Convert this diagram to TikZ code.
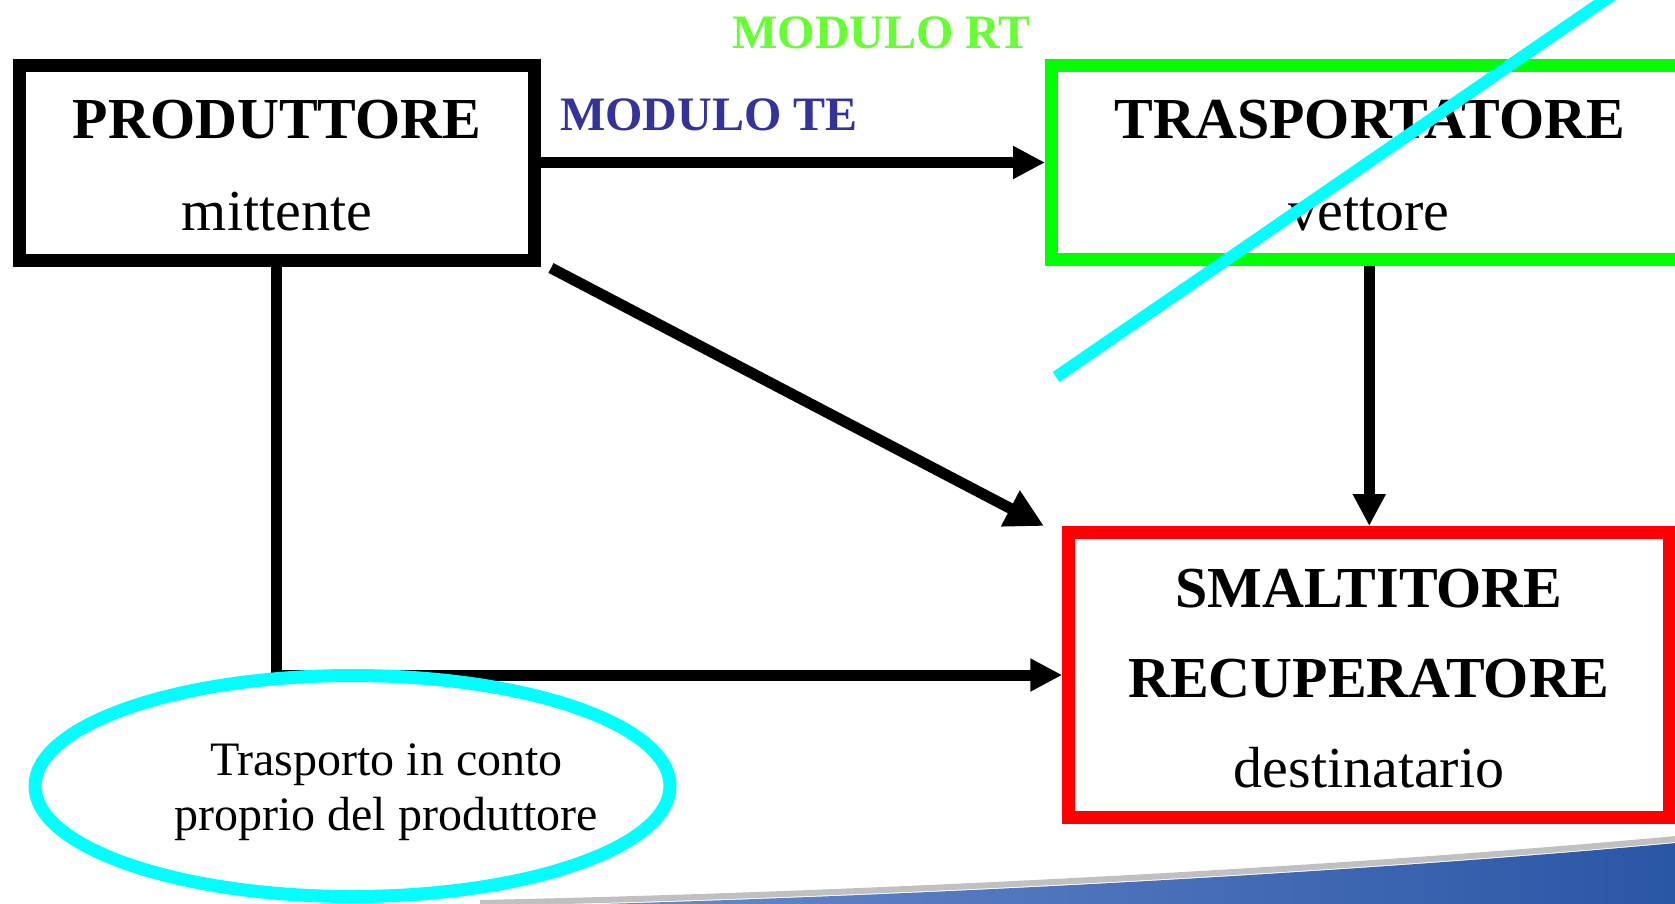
\documentclass[tikz,border=0pt]{standalone}
\usepackage{fontspec}
\setmainfont{Liberation Serif}
\usetikzlibrary{arrows.meta,shapes.geometric}
\definecolor{teblue}{HTML}{333399}
\definecolor{rtgreen}{HTML}{66FF33}
\definecolor{boxgreen}{HTML}{00FF00}
\definecolor{boxred}{HTML}{FF0000}
\definecolor{cyanline}{HTML}{00FFFF}
\definecolor{swl}{HTML}{7090D0}
\definecolor{swr}{HTML}{2A56A6}
\tikzset{
  box/.style={rectangle, line width=13pt, inner sep=0pt},
  bigname/.style={anchor=base, font=\bfseries\fontsize{58}{62}\selectfont},
  subname/.style={anchor=base, font=\fontsize{58}{62}\selectfont},
  modlabel/.style={anchor=base, font=\bfseries\fontsize{48}{52}\selectfont},
  elltext/.style={anchor=base, font=\fontsize{48}{52}\selectfont},
  arr/.style={line width=11pt, -{Triangle[length=32pt,width=31pt]}},
  bigarr/.style={line width=11pt, -{Triangle[length=38pt,width=38pt]}},
}
\begin{document}
\begin{tikzpicture}[x=1pt,y=-1pt]
\useasboundingbox (0,0) rectangle (1675,903);
\clip (0,0) rectangle (1675,903);
\fill[white] (0,0) rectangle (1675,903);

% bottom swoosh
\shade[left color=swl, right color=swr]
  (480,907) .. controls (900,898) and (1350,873) .. (1676,843) -- (1676,910) -- (480,910) -- cycle;
\draw[gray!70, line width=6pt, opacity=0.7]
  (480,903) .. controls (900,894) and (1350,869) .. (1676,839);

% boxes
\node[box, draw=black, minimum width=515.5pt, minimum height=195pt] (prod) at (276.75,162.5) {};
\node[box, draw=boxgreen, minimum width=648pt, minimum height=194pt] (trasp) at (1375.5,162.5) {};
\node[box, draw=boxred, minimum width=601pt, minimum height=285pt] (smalt) at (1369.25,675) {};

% box texts
\node[bigname] (prodT) at (277,138) {PRODUTTORE};
\node[subname] (prodS) at (277,230) {mittente};
\node[bigname] (traspT) at (1370,138) {TRASPORTATORE};
\node[subname] (traspS) at (1369,230) {vettore};
\node[bigname] (smaltT1) at (1369,607) {SMALTITORE};
\node[bigname] (smaltT2) at (1369,697) {RECUPERATORE};
\node[subname] (smaltS) at (1369,787) {destinatario};

% module labels
\node[modlabel, text=rtgreen] (modRT) at (881.5,48) {MODULO RT};
\node[modlabel, text=teblue] (modTE) at (709,130) {MODULO TE};

% connectors
\draw[arr] (prod.east) -- (trasp.west);
\draw[arr] (smalt.north |- trasp.south) -- (smalt.north);
\coordinate (dstart) at (551,268);
\coordinate (dend) at (1044,526);
\draw[bigarr] (dstart) -- (dend);
\draw[arr] (prod.south) -- (prod.south |- smalt.west) -- (smalt.west);

% ellipse
\node[ellipse, draw=cyanline, line width=13pt, minimum width=635pt, minimum height=221pt, inner sep=0pt] (ell) at (352.5,786) {};
\node[elltext] (ellT1) at (386.5,775) {Trasporto in conto};
\node[elltext] (ellT2) at (386,830) {proprio del produttore};

% cyan strike-through
\coordinate (s1) at (1056,377);
\coordinate (s2) at (1612,-5);
\draw[cyanline, line width=12pt] (s1) -- (s2);
\end{tikzpicture}
\end{document}
